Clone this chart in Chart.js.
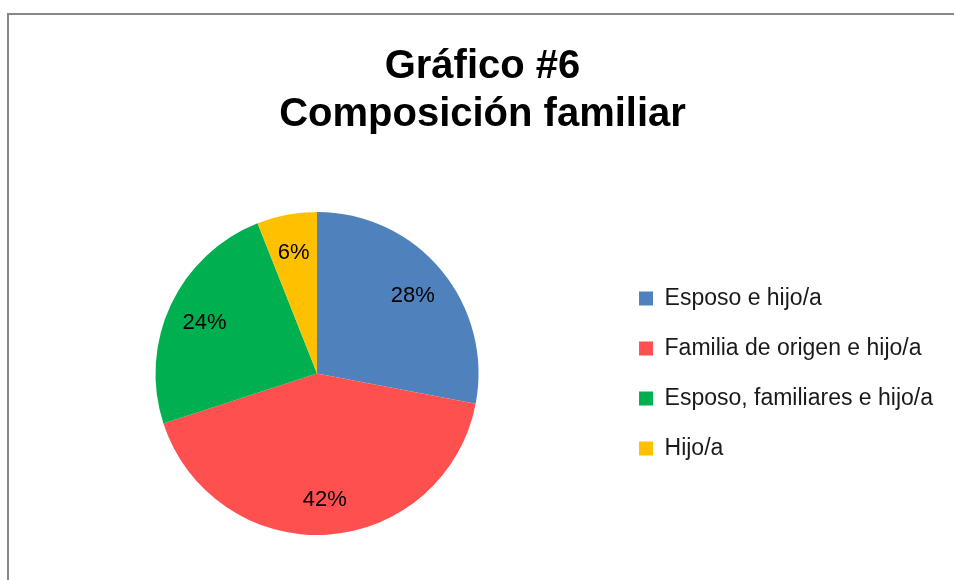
<!DOCTYPE html>
<html>
<head>
<meta charset="utf-8">
<script src="https://cdn.jsdelivr.net/npm/chart.js@4.4.1/dist/chart.umd.min.js"></script>
<style>
  html, body { margin: 0; padding: 0; background: #fff; overflow: hidden; }
  #marco { position: absolute; left: 7px; top: 13px; width: 2000px; height: 2000px; border: 2px solid #888; }
  #grafico { position: absolute; left: 0; top: 0; }
</style>
</head>
<body>
<div id="marco"></div>
<canvas id="grafico" width="954" height="580"></canvas>
<script>
// Datos del grafico
const categorias = ["Esposo e hijo/a", "Familia de origen e hijo/a", "Esposo, familiares e hijo/a", "Hijo/a"]
const porcentajes = [28, 42, 24, 6]
const colores = ["#4F81BD", "#FF5050", "#00B050", "#FFC000"]
const titulo = ["Gráfico #6", "Composición familiar"]

const fuente = "'Liberation Sans', Arial, sans-serif"

// Plugin para escribir el porcentaje dentro de cada sector
const etiquetas = {
  id: "etiquetas",
  afterDatasetsDraw(chart) {
    const ctx = chart.ctx
    const meta = chart.getDatasetMeta(0)
    ctx.save()
    ctx.font = "22px " + fuente
    ctx.fillStyle = "#000"
    ctx.textAlign = "center"
    ctx.textBaseline = "middle"
    meta.data.forEach((arco, i) => {
      const p = arco.getProps(["x", "y", "startAngle", "endAngle", "outerRadius"], true)
      const medio = (p.startAngle + p.endAngle) / 2
      const r = p.outerRadius * 0.77
      ctx.fillText(porcentajes[i] + "%", p.x + Math.cos(medio) * r, p.y + Math.sin(medio) * r + 2)
    })
    ctx.restore()
  }
}

new Chart(document.getElementById("grafico"), {
  type: "pie",
  data: {
    labels: categorias,
    datasets: [{
      data: porcentajes,
      backgroundColor: colores,
      borderWidth: 0
    }]
  },
  options: {
    responsive: false,
    animation: false,
    devicePixelRatio: 1,
    layout: { padding: { left: 22, right: 11, top: 0, bottom: 45 } },
    plugins: {
      tooltip: { enabled: false },
      title: {
        display: true,
        text: titulo,
        color: "#000",
        font: { family: fuente, size: 40, weight: "bold", lineHeight: 48 / 40 },
        padding: { top: 43, bottom: 73 }
      },
      legend: {
        position: "right",
        fullSize: false,
        labels: {
          boxWidth: 14,
          boxHeight: 14,
          padding: 27,
          color: "#1a1a1a",
          font: { family: fuente, size: 23 }
        }
      }
    }
  },
  plugins: [etiquetas]
})
</script>
</body>
</html>
